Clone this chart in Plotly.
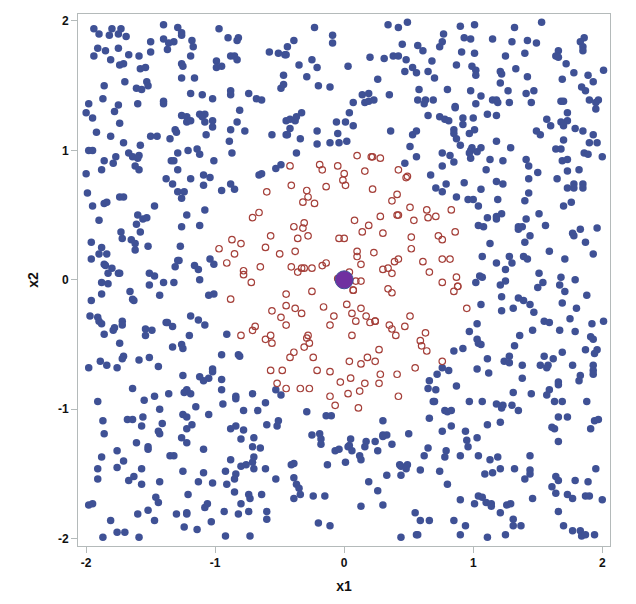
import plotly.graph_objects as go

blue_upper_left = [(-1.94,1.94),(-1.90,1.90),(-1.80,1.94),(-1.82,1.89),(-1.75,1.90),(-1.73,1.94),(-1.69,1.88),(-1.40,1.97),(-1.29,1.95),(-1.26,1.91),(-1.26,1.89),(-1.40,1.86),(-1.18,1.85),(-1.32,1.84),(-1.36,1.83),(-1.37,1.78),(-1.17,1.80),(-1.50,1.84),(-1.50,1.76),(-0.97,1.94),(-0.90,1.87),(-0.82,1.87),(-0.83,1.85),(-1.91,1.79),(-1.85,1.77),(-1.94,1.73),(-1.75,1.79),(-1.81,1.70),(-1.67,1.74),(-1.59,1.73),(-1.74,1.66),(-1.71,1.67),(-1.58,1.63),(-1.54,1.64),(-1.19,1.73),(-1.26,1.67),(-1.25,1.65),(-0.99,1.69),(-0.99,1.64),(-0.95,1.65),(-0.88,1.73),(-0.85,1.73),(-0.83,1.70),(-0.58,1.76),(-0.51,1.75),(-0.46,1.74),(-0.45,1.74),(-0.44,1.80),(-0.39,1.85),(-0.23,1.95),(-0.09,1.89),(-0.09,1.83),(-0.25,1.70),(-0.21,1.64),(-0.35,1.66),(-0.47,1.58),(-0.29,1.57),(-1.26,1.56),(-1.16,1.56),(-1.86,1.50),(-1.70,1.53),(-1.61,1.48),(-1.57,1.47),(-1.53,1.53),(-1.52,1.50),(-0.49,1.48),(-0.47,1.51),(-0.20,1.50),(-0.11,1.49),(-1.19,1.44),(-1.10,1.43),(-1.02,1.40),(-0.88,1.46),(-0.88,1.43),(-0.74,1.44),(-0.68,1.40),(-0.64,1.39),(-1.87,1.40),(-1.98,1.36),(-1.75,1.35),(-1.78,1.30),(-1.60,1.36),(-1.40,1.38),(-1.40,1.36),(-2.00,1.29),(-1.95,1.25),(-1.74,1.21),(-1.26,1.27),(-1.22,1.26),(-1.22,1.22),(-1.19,1.23),(-1.12,1.28),(-1.08,1.28),(-1.10,1.26),(-1.08,1.22),(-1.02,1.23),(-0.81,1.31),(-0.83,1.22),(-1.02,1.18),(-0.88,1.16),(-0.77,1.15),(-0.45,1.23),(-0.42,1.24),(-0.38,1.23),(-0.37,1.26),(-0.33,1.29),(-0.42,1.17),(-0.45,1.12),(-0.44,1.12),(-0.06,1.22),(-1.92,1.14),(-1.81,1.11),(-1.71,1.06),(-1.50,1.11),(-1.45,1.11),(-1.35,1.09),(-1.31,1.16),(-1.30,1.14),(-1.07,1.12),(-0.89,1.07),(-0.56,1.12),(-0.34,1.09),(-0.21,1.15),(-0.05,1.13),(-0.21,1.05),(-0.11,1.06),(-0.04,1.06),(-1.98,1.00),(-1.95,1.00),(-1.58,1.04),(-1.67,0.98),(-1.64,0.95),(-1.59,0.96),(-1.60,0.94),(-1.29,0.98),(-1.21,1.00),(-1.14,1.01),(-1.12,0.97),(-0.87,0.98),(-0.37,0.98),(-1.77,0.95),(-1.86,0.92),(-1.79,0.90),(-1.01,0.92),(-1.34,0.92),(-1.32,0.92),(-1.62,0.88),(-1.59,0.85),(-1.88,0.85),(-2.00,0.82),(-1.29,0.85),(-0.53,0.86),(-0.49,0.89),(-0.66,0.81),(-0.64,0.82),(-1.09,0.81),(-1.04,0.79),(-1.38,0.78),(-1.19,0.78),(-1.33,0.74),(-1.09,0.73),(-0.88,0.74),(-0.85,0.70),(-0.95,0.69),(-1.29,0.68),(-1.24,0.68),(-1.26,0.63),(-1.99,0.67),(-1.74,0.64),(-1.71,0.64),(-1.86,0.59),(-1.84,0.60),(-1.95,0.57),(-1.47,0.57),(-1.08,0.54),(-1.60,0.50),(-1.56,0.47),(-1.53,0.48),(-1.22,0.50),(-1.90,0.46),(-1.61,0.43),(-1.26,0.41),(-1.12,0.42),(-1.73,0.37),(-1.58,0.37),(-1.72,0.32),(-1.65,0.31),(-1.62,0.28),(-1.62,0.23),(-1.52,0.26),(-1.27,0.26),(-1.96,0.29),(-1.88,0.25),(-1.90,0.20),(-1.84,0.20),(-1.96,0.16),(-1.04,0.16),(-1.01,0.12),(-1.29,0.15),(-1.28,0.15),(-1.31,0.10),(-1.16,0.11),(-1.13,0.08),(-1.86,0.12),(-1.85,0.11),(-1.80,0.09),(-1.83,0.05),(-1.75,0.05),(-1.74,0.05),(-1.51,0.05),(-1.47,0.03)]

blue_upper_right = [(.34,1.97),(.42,1.95),(.49,1.99),(.90,1.96),(1.01,1.97),(.77,1.90),(.76,1.84),(.74,1.80),(.93,1.87),(.98,1.86),(.45,1.82),(.57,1.81),(.61,1.77),(1.15,1.86),(1.30,1.84),(1.42,1.85),(1.49,1.83),(1.32,1.95),(1.53,1.99),(1.86,1.87),(1.83,1.84),(1.85,1.80),(1.85,1.77),(1.66,1.77),(1.64,1.73),(1.66,1.72),(1.72,1.67),(.20,1.72),(.31,1.71),(.38,1.73),(.42,1.73),(.48,1.70),(.91,1.76),(1.01,1.75),(1.25,1.73),(1.40,1.75),(.68,1.69),(.03,1.65),(.87,1.66),(.99,1.65),(1.02,1.62),(1.02,1.58),(.53,1.64),(.47,1.61),(.56,1.60),(.65,1.61),(.70,1.56),(1.21,1.61),(1.22,1.59),(1.33,1.63),(1.42,1.57),(1.78,1.60),(1.69,1.55),(1.89,1.58),(1.93,1.53),(2.01,1.62),(.26,1.55),(1.21,1.52),(.58,1.47),(.80,1.47),(.98,1.46),(1.27,1.46),(1.41,1.44),(1.47,1.46),(1.84,1.49),(1.87,1.46),(1.90,1.39),(1.97,1.39),(1.95,1.37),(1.95,1.32),(.14,1.43),(.19,1.44),(.35,1.43),(1.06,1.42),(.07,1.37),(.16,1.37),(.19,1.38),(.23,1.39),(.57,1.39),(.63,1.39),(.62,1.36),(.69,1.39),(1.02,1.36),(1.15,1.39),(1.18,1.39),(1.19,1.37),(1.28,1.37),(1.45,1.37),(1.68,1.38),(1.70,1.38),(.86,1.34),(.86,1.33),(.04,1.29),(.65,1.27),(.74,1.26),(.78,1.24),(.81,1.23),(.92,1.25),(1.00,1.25),(1.11,1.28),(1.18,1.27),(1.57,1.24),(1.73,1.29),(1.73,1.23),(1.68,1.22),(1.70,1.19),(.01,1.22),(.07,1.19),(.92,1.20),(1.60,1.19),(1.49,1.15),(1.52,1.12),(1.79,1.17),(1.85,1.15),(1.93,1.12),(.36,1.15),(.53,1.12),(.56,1.15),(.85,1.16),(.85,1.13),(1.01,1.16),(.97,1.13),(.87,1.09),(.90,1.04),(.02,1.07),(1.18,1.07),(1.70,1.08),(1.90,1.06),(1.96,1.06),(.51,1.03),(1.29,1.02),(1.64,1.01),(1.68,1.01),(.76,.98),(.82,.96),(.98,1.00),(.97,.98),(.99,1.02),(1.03,.99),(1.06,1.02),(1.86,.98),(1.89,.97),(2.00,.95),(.56,.95),(.85,.91),(.98,.94),(1.13,.93),(1.23,.92),(1.41,.93),(1.69,.92),(1.73,.93),(.47,.90),(.76,.88),(1.43,.88),(1.10,.85),(1.73,.84),(1.82,.85),(1.50,.83),(.67,.81),(1.18,.76),(1.23,.74),(1.43,.78),(1.65,.78),(.79,.74),(.93,.75),(1.78,.74),(1.85,.74),(1.73,.71),(1.78,.71),(1.85,.71),(.71,.71),(.76,.68),(1.06,.70),(1.43,.67),(.87,.64),(.96,.62),(1.00,.62),(1.19,.62),(1.40,.61),(1.76,.60),(1.70,.57),(1.04,.57),(1.51,.51),(1.22,.51),(1.18,.49),(1.18,.47),(1.11,.48),(1.41,.47),(1.56,.42),(1.04,.42),(1.08,.41),(1.35,.41),(1.35,.39),(1.38,.41),(1.83,.39),(1.96,.40),(1.77,.36),(1.78,.34),(1.44,.34),(1.40,.29),(1.13,.28),(1.87,.29),(1.59,.22),(1.93,.20),(1.07,.18),(1.28,.18),(1.39,.18),(1.42,.16),(1.18,.13),(1.30,.13),(1.71,.16),(1.25,.08),(1.51,.05),(1.05,.03)]

blue_lower_left = [(-1.88,-.02),(-1.83,-.03),(-1.51,-.04),(-1.40,-.02),(-1.32,-.02),(-1.12,0),(-1.66,-.09),(-1.88,-.11),(-1.43,-.12),(-1.05,-.12),(-1.01,-.11),(-1.96,-.16),(-1.64,-.15),(-1.63,-.16),(-1.97,-.28),(-1.91,-.29),(-1.90,-.32),(-1.88,-.34),(-1.72,-.32),(-1.72,-.35),(-1.78,-.37),(-1.79,-.39),(-1.38,-.33),(-1.37,-.33),(-1.33,-.36),(-1.19,-.28),(-1.13,-.31),(-1.08,-.35),(-1.54,-.38),(-1.49,-.39),(-1.54,-.43),(-1.86,-.42),(-1.20,-.43),(-.91,-.42),(-1.74,-.49),(-1.33,-.52),(-1.26,-.50),(-1.25,-.53),(-1.71,-.59),(-1.72,-.61),(-1.59,-.62),(-1.51,-.60),(-1.89,-.63),(-1.84,-.66),(-1.76,-.68),(-1.98,-.68),(-1.44,-.67),(-.95,-.58),(-.82,-.58),(-.81,-.59),(-1.02,-.69),(-1.02,-.71),(-1.25,-.74),(-1.12,-.75),(-1.05,-.76),(-1.09,-.78),(-.95,-.77),(-1.64,-.84),(-.95,-.85),(-1.22,-.85),(-1.22,-.86),(-1.24,-.87),(-1.19,-.88),(-1.47,-.90),(-1.36,-.88),(-.84,-.90),(-.84,-.92),(-.71,-.88),(-.53,-.85),(-.49,-.89),(-1.55,-.93),(-1.91,-.94),(-.94,-.96),(-1.15,-.98),(-.61,-.95),(-1.43,-1.00),(-.78,-1.01),(-.67,-1.01),(-.29,-1.02),(-1.25,-1.04),(-1.22,-1.06),(-1.05,-1.04),(-1.68,-1.08),(-1.64,-1.08),(-1.56,-1.06),(-1.87,-1.09),(-1.41,-1.11),(-1.18,-1.12),(-.14,-1.05),(-.10,-1.05),(-1.57,-1.13),(-1.22,-1.15),(-.60,-1.12),(-.51,-1.09),(-.52,-1.13),(-.84,-1.13),(-.88,-1.15),(-.78,-1.16),(-1.44,-1.17),(-1.43,-1.19),(-1.86,-1.19),(-1.26,-1.22),(-.19,-1.19),(-.25,-1.20),(-.18,-1.23),(-.18,-1.27),(-.70,-1.22),(-.80,-1.23),(-1.61,-1.26),(-1.22,-1.26),(-.71,-1.29),(-.65,-1.30),(-1.76,-1.32),(-1.52,-1.29),(-1.52,-1.31),(-1.09,-1.31),(-.07,-1.32),(-.04,-1.31),(-1.88,-1.37),(-1.35,-1.36),(-1.32,-1.36),(-1.71,-1.40),(-.88,-1.39),(-.70,-1.37),(-.71,-1.41),(-.13,-1.43),(-.41,-1.43),(-.39,-1.42),(-1.91,-1.46),(-1.76,-1.45),(-1.57,-1.46),(-.80,-1.44),(-.76,-1.43),(-.70,-1.46),(-.61,-1.46),(-1.25,-1.48),(-.92,-1.48),(-1.09,-1.49),(-.84,-1.50),(-1.63,-1.52),(-1.67,-1.55),(-1.91,-1.54),(-1.43,-1.56),(-1.13,-1.56),(-.85,-1.54),(-.53,-1.54),(-.39,-1.53),(-1.57,-1.58),(-1.02,-1.57),(-.91,-1.58),(-.37,-1.58),(-.35,-1.61),(-.34,-1.66),(-.39,-1.69),(-1.21,-1.66),(-.85,-1.64),(-.74,-1.66),(-.73,-1.69),(-.64,-1.66),(-.24,-1.67),(-.15,-1.67),(-1.46,-1.68),(-1.44,-1.72),(-.80,-1.73),(-1.06,-1.73),(-1.08,-1.76),(-1.95,-1.73),(-1.98,-1.74),(-1.52,-1.78),(-1.60,-1.81),(-1.30,-1.81),(-1.22,-1.81),(-1.22,-1.80),(-.93,-1.79),(-.82,-1.81),(-.74,-1.79),(-.60,-1.79),(-1.81,-1.86),(-1.47,-1.86),(-1.03,-1.87),(-.60,-1.85),(-.20,-1.88),(-.11,-1.90),(-1.24,-1.91),(-1.14,-1.93),(-1.76,-1.95),(-1.70,-1.95),(-1.87,-1.99),(-1.59,-1.99),(-.92,-1.98),(-.73,-1.98)]

blue_lower_right = [(1.02,-.02),(1.07,.02),(1.21,-.04),(1.25,-.01),(1.54,-.02),(1.50,-.06),(1.68,.02),(1.67,-.04),(1.79,0),(1.71,-.09),(1.88,-.12),(1.22,-.13),(1.35,-.14),(1.39,-.16),(1.44,-.19),(1.06,-.19),(1.22,-.24),(1.31,-.22),(1.47,-.25),(1.69,-.18),(1.80,-.22),(1.75,-.30),(1.55,-.32),(1.59,-.33),(1.92,-.34),(2.01,-.32),(1.03,-.34),(1.67,-.39),(1.79,-.40),(1.46,-.39),(1.36,-.43),(.97,-.40),(1.03,-.46),(1.04,-.49),(1.06,-.50),(1.91,-.44),(1.93,-.46),(1.32,-.51),(.92,-.53),(.85,-.55),(1.87,-.54),(1.96,-.54),(1.94,-.57),(1.69,-.56),(1.55,-.59),(1.62,-.61),(1.28,-.59),(1.24,-.63),(1.28,-.64),(1.11,-.61),(1.38,-.66),(1.52,-.66),(1.58,-.66),(1.57,-.68),(1.77,-.66),(1.93,-.66),(1.93,-.70),(1.93,-.73),(1.03,-.69),(1.12,-.72),(.76,-.68),(.81,-.70),(.72,-.73),(1.38,-.76),(1.83,-.74),(1.82,-.78),(.66,-.78),(1.66,-.79),(1.66,-.81),(.65,-.84),(.71,-.85),(.87,-.82),(1.59,-.85),(1.57,-.89),(1.31,-.87),(1.45,-.88),(.69,-.94),(.70,-.94),(.97,-.94),(1.07,-.94),(1.18,-.96),(1.23,-.97),(1.22,-.99),(1.30,-.97),(1.63,-.94),(1.69,-.94),(1.88,-.94),(1.35,-1.01),(.78,-1.01),(.80,-1.02),(.83,-1.01),(.66,-1.07),(1.66,-1.06),(1.73,-1.06),(.30,-1.09),(1.21,-1.10),(1.11,-1.12),(.83,-1.13),(1.94,-1.09),(1.97,-1.08),(.76,-1.17),(.94,-1.17),(1.61,-1.14),(1.63,-1.15),(1.91,-1.15),(.30,-1.20),(.33,-1.20),(.30,-1.21),(.50,-1.19),(1.03,-1.22),(.95,-1.24),(1.66,-1.25),(.05,-1.23),(.17,-1.25),(.24,-1.25),(.04,-1.28),(.03,-1.29),(.06,-1.32),(.16,-1.29),(.37,-1.27),(.26,-1.32),(.65,-1.30),(.79,-1.32),(.96,-1.29),(.12,-1.36),(.13,-1.39),(.62,-1.36),(.78,-1.37),(.90,-1.36),(1.04,-1.36),(1.13,-1.39),(1.19,-1.37),(1.44,-1.36),(.01,-1.41),(.43,-1.43),(.44,-1.44),(.49,-1.43),(.48,-1.46),(.59,-1.47),(.74,-1.48),(1.09,-1.50),(1.15,-1.49),(1.21,-1.46),(1.32,-1.46),(1.44,-1.47),(1.44,-1.50),(1.95,-1.46),(.33,-1.51),(.44,-1.51),(.19,-1.56),(1.40,-1.54),(1.64,-1.52),(1.66,-1.55),(1.79,-1.55),(1.89,-1.56),(.80,-1.58),(1.61,-1.60),(.26,-1.63),(1.64,-1.65),(1.73,-1.66),(1.77,-1.69),(1.87,-1.67),(1.90,-1.67),(2.00,-1.70),(1.04,-1.67),(1.07,-1.68),(1.46,-1.69),(.90,-1.70),(1.01,-1.73),(1.10,-1.72),(1.14,-1.73),(1.14,-1.75),(1.26,-1.74),(1.29,-1.73),(.13,-1.75),(.30,-1.74),(1.21,-1.80),(1.66,-1.79),(.55,-1.80),(1.31,-1.85),(.59,-1.86),(.66,-1.86),(.85,-1.86),(.94,-1.90),(1.31,-1.90),(1.37,-1.90),(1.70,-1.90),(1.77,-1.94),(1.83,-1.94),(1.84,-1.98),(1.87,-1.97),(1.94,-1.97),(.56,-1.97),(.57,-1.97),(.44,-1.99),(.90,-1.97),(1.11,-1.99),(1.25,-1.97)]

red_upper_left = [(-.42,.88),(-.19,.89),(-.17,.85),(-.05,.88),(-.41,.73),(-.14,.72),(-.29,.69),(-.28,.64),(-.32,.60),(-.23,.59),(-.60,.68),(-.66,.52),(-.71,.48),(-.31,.44),(-.39,.41),(-.32,.40),(-.57,.34),(-.36,.32),(-.28,.34),(-.04,.32),(-.87,.31),(-.80,.28),(-.97,.24),(-.61,.25),(-.85,.20),(-.50,.20),(-.38,.22),(-.91,.13),(-.65,.10),(-.41,.10),(-.33,.09),(-.31,.09),(-.25,.09),(-.17,.11),(-.14,.13),(-.36,.06),(-.78,.07),(-.78,.04),(-.05,.01)]

red_upper_right = [(0,.82),(-.01,.77),(.01,.73),(.10,.96),(.21,.95),(.22,.95),(.28,.94),(.16,.84),(.42,.85),(.48,.79),(.49,.80),(.22,.70),(.41,.66),(.37,.61),(.51,.56),(.64,.54),(.83,.54),(.28,.49),(.41,.50),(.42,.50),(.65,.48),(.71,.49),(.54,.46),(.08,.46),(.19,.42),(.14,.37),(.30,.36),(0,.32),(.52,.33),(.73,.34),(.76,.31),(.86,.37),(.52,.24),(.23,.21),(.10,.22),(.10,.18),(.13,.12),(.42,.16),(.39,.14),(.61,.14),(.76,.16),(.82,.16),(.30,.08),(.34,.09),(.37,.05),(.66,.06),(.04,.06)]

red_lower_left = [(-.72,-.02),(-.88,-.15),(-.45,-.11),(-.25,-.09),(-.45,-.20),(-.56,-.24),(-.38,-.22),(-.33,-.26),(-.16,-.21),(-.49,-.29),(-.08,-.28),(-.45,-.35),(-.11,-.35),(-.69,-.36),(-.71,-.39),(-.80,-.43),(-.61,-.46),(-.57,-.43),(-.56,-.49),(-.28,-.43),(-.29,-.45),(-.27,-.49),(-.31,-.52),(-.39,-.56),(-.42,-.60),(-.24,-.60),(-.57,-.70),(-.48,-.70),(-.21,-.70),(-.11,-.71),(-.03,-.79),(-.52,-.80),(-.45,-.84),(-.34,-.84),(-.27,-.84),(-.11,-.90),(-.07,-.97)]

red_lower_right = [(.13,-.01),(.09,-.01),(.07,-.08),(.07,-.08),(.34,-.07),(.37,-.10),(.76,-.02),(.87,.02),(.88,-.05),(.88,-.05),(.85,-.09),(.02,-.19),(.13,-.22),(.06,-.26),(.17,-.28),(.09,-.32),(.20,-.33),(.24,-.32),(.24,-.32),(.51,-.28),(.95,-.22),(.35,-.35),(.37,-.38),(.47,-.36),(.06,-.43),(.40,-.43),(.63,-.41),(.59,-.47),(.60,-.51),(.64,-.55),(.27,-.54),(.18,-.60),(.24,-.63),(.04,-.63),(.13,-.65),(.76,-.63),(.55,-.68),(.28,-.73),(.41,-.73),(.05,-.76),(.16,-.80),(.27,-.80),(.12,-.86),(.03,-.88),(.42,-.90),(.11,-.99)]

query_x = [0.0]
query_y = [0.0]
tick_values = [-2, -1, 0, 1, 2]
tick_labels = ["-2", "-1", "0", "1", "2"]

blue = blue_upper_left + blue_upper_right + blue_lower_left + blue_lower_right
red = red_upper_left + red_upper_right + red_lower_left + red_lower_right

fig = go.Figure()
fig.add_trace(go.Scatter(x=[p[0] for p in blue], y=[p[1] for p in blue], mode="markers",
                         marker=dict(color="#3F5195", size=7.5, line=dict(width=0)), cliponaxis=False))
fig.add_trace(go.Scatter(x=[p[0] for p in red], y=[p[1] for p in red], mode="markers",
                         marker=dict(symbol="circle-open", color="#A5403A", size=6.5, line=dict(width=1.2, color="#A5403A")),
                         cliponaxis=False))
fig.add_trace(go.Scatter(x=query_x, y=query_y, mode="markers",
                         marker=dict(color="#7030A0", size=18, line=dict(width=1, color="#3F5195")), cliponaxis=False))

axis_common = dict(
    tickmode="array", tickvals=tick_values, ticktext=tick_labels,
    ticks="outside", ticklen=6, tickwidth=1, tickcolor="#B4BABA",
    showgrid=False, zeroline=False, showline=True, mirror=True,
    linecolor="#B4BABA", linewidth=1,
    tickfont=dict(family="Liberation Sans", size=12, color="#111111", weight="bold"),
)
fig.update_xaxes(range=[-2.063, 2.06], title=dict(text="<b>x1</b>", font=dict(family="Liberation Sans", size=14, color="#111111"), standoff=11), **axis_common)
fig.update_yaxes(range=[-2.057, 2.054], title=dict(text="<b>x2</b>", font=dict(family="Liberation Sans", size=14, color="#111111"), standoff=16), **axis_common)
fig.update_layout(width=628, height=596, showlegend=False, paper_bgcolor="white", plot_bgcolor="white",
                  margin=dict(l=70, r=26, t=6, b=58, pad=0))
fig.write_html("out.html")
